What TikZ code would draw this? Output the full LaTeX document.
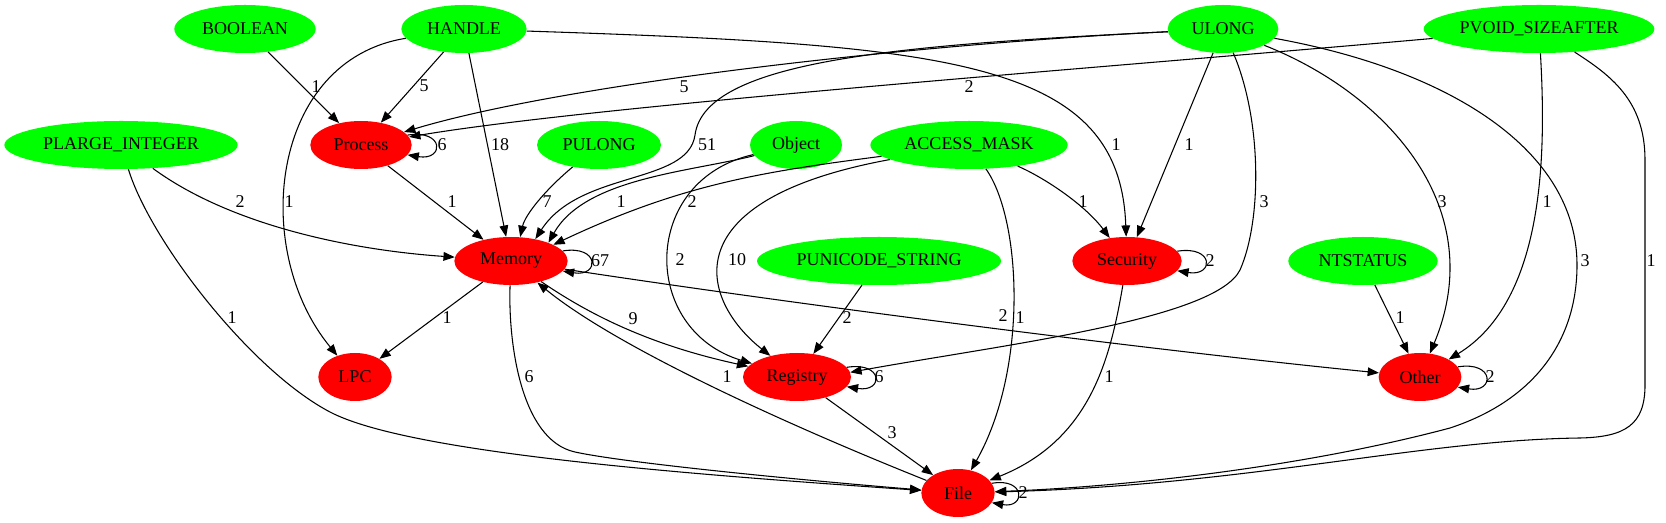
\documentclass[tikz,border=0pt]{standalone}
\usepackage{fontspec}
\setmainfont{Liberation Serif}
\usetikzlibrary{arrows.meta, shapes.geometric}

\definecolor{typegreen}{RGB}{0,255,0}
\definecolor{grpred}{RGB}{255,0,0}
\newcommand{\gvfont}{\fontsize{13.5pt}{16pt}\selectfont}

\begin{document}
\begin{tikzpicture}[x=0.75pt, y=-0.75pt,
  typ/.style={ellipse, fill=typegreen, minimum height=36pt, inner sep=0pt, font=\gvfont},
  grp/.style={ellipse, fill=grpred, minimum height=36pt, inner sep=0pt, font=\gvfont},
  arr/.style={-{Triangle[length=8.5pt, width=6.5pt]}, line width=0.8pt},
  lbl/.style={font=\gvfont, inner sep=0pt}
]
  \useasboundingbox (0,0) rectangle (1666,523);

  \node[typ, minimum width=106pt] (bool)     at (245,29)   {BOOLEAN};
  \node[typ, minimum width=94pt]  (handle)   at (464,29)   {HANDLE};
  \node[typ, minimum width=83pt]  (ulong)    at (1223,29)  {ULONG};
  \node[typ, minimum width=173pt] (pvoid)    at (1539,29)  {PVOID\_SIZEAFTER};
  \node[typ, minimum width=175pt] (plarge)   at (121,145)  {PLARGE\_INTEGER};
  \node[typ, minimum width=93pt]  (pulong)   at (599,145)  {PULONG};
  \node[typ, minimum width=69pt]  (object)   at (796,145)  {Object};
  \node[typ, minimum width=148pt] (access)   at (969,145)  {ACCESS\_MASK};
  \node[typ, minimum width=183pt] (punicode) at (879,261)  {PUNICODE\_STRING};
  \node[typ, minimum width=112pt] (ntstatus) at (1363,261) {NTSTATUS};

  \node[grp, minimum width=76pt] (proc)  at (361,145)  {Process};
  \node[grp, minimum width=85pt] (mem)   at (511,261)  {Memory};
  \node[grp, minimum width=82pt] (sec)   at (1127,261) {Security};
  \node[grp, minimum width=55pt] (lpc)   at (355,377)  {LPC};
  \node[grp, minimum width=81pt] (reg)   at (797,377)  {Registry};
  \node[grp, minimum width=62pt] (other) at (1420,377) {Other};
  \node[grp, minimum width=55pt] (file)  at (958,493)  {File};

  \draw[arr] (bool) -- (proc) node[lbl] at (316,87) {1};
  \draw[arr] (handle) -- (proc) node[lbl] at (424,86) {5};
  \draw[arr] (handle) -- (mem) node[lbl] at (500,145) {18};
  \draw[arr] (handle) .. controls (270,60) and (250,250) .. (lpc) node[lbl] at (289,202) {1};
  \draw[arr] (handle) .. controls (950,45) and (1120,60) .. (sec) node[lbl] at (1116,145) {1};

  \draw[arr] (ulong) .. controls (900,45) and (560,85) .. (proc) node[lbl] at (684,87) {5};
  \draw[arr] (ulong) .. controls (900,45) and (705,60) .. (695,135)
                     .. controls (688,185) and (580,170) .. (mem.42) node[lbl] at (707,145) {51};
  \draw[arr] (ulong) -- (sec) node[lbl] at (1189,145) {1};
  \draw[arr] (ulong) .. controls (1262,120) and (1262,220) .. (1240,270)
                     .. controls (1215,320) and (1000,345) .. (reg.5) node[lbl] at (1264,202) {3};
  \draw[arr] (ulong) .. controls (1390,95) and (1490,210) .. (other) node[lbl] at (1442,202) {3};
  \draw[arr] (ulong) .. controls (1450,70) and (1577,150) .. (1577,265)
                     .. controls (1577,340) and (1535,400) .. (1450,428)
                     .. controls (1300,468) and (1120,487) .. (file) node[lbl] at (1585,261) {3};

  \draw[arr] (pvoid) .. controls (1100,68) and (600,105) .. (proc) node[lbl] at (969,87) {2};
  \draw[arr] (pvoid) .. controls (1546,150) and (1546,300) .. (other) node[lbl] at (1547,202) {1};
  \draw[arr] (pvoid) .. controls (1610,75) and (1645,100) .. (1645,160) -- (1645,385)
                     .. controls (1645,425) and (1625,437) .. (1580,438)
                     .. controls (1420,440) and (1250,485) .. (file) node[lbl] at (1651,261) {1};

  \draw[arr] (plarge) .. controls (230,225) and (350,250) .. (mem) node[lbl] at (240,202) {2};
  \draw[arr] (plarge) .. controls (150,240) and (250,370) .. (330,412)
                      .. controls (410,454) and (700,475) .. (file) node[lbl] at (232,318) {1};

  \draw[arr] (proc) -- (mem) node[lbl] at (452,202) {1};
  \draw[arr] (proc.12) .. controls ([shift={(37,-6)}]proc.12) and ([shift={(37,6)}]proc.-12) .. (proc.-12)
             node[lbl] at (442,145) {6};
  \draw[arr] (pulong) .. controls (545,190) and (525,215) .. (mem.69) node[lbl] at (547,202) {7};

  \draw[arr] (object) .. controls (690,172) and (585,178) .. (mem.26) node[lbl] at (621,202) {1};
  \draw[arr] (object) .. controls (640,180) and (640,330) .. (reg) node[lbl] at (680,260) {2};
  \draw[arr] (access) .. controls (760,172) and (680,185) .. (mem.21) node[lbl] at (692,202) {2};
  \draw[arr] (access) .. controls (670,200) and (700,300) .. (reg) node[lbl] at (737,260) {10};
  \draw[arr] (access) .. controls (1045,178) and (1085,205) .. (sec) node[lbl] at (1083,202) {1};
  \draw[arr] (access) .. controls (1022,220) and (1028,370) .. (file) node[lbl] at (1020,318) {1};

  \draw[arr] (mem.11) .. controls ([shift={(37,-6)}]mem.11) and ([shift={(37,6)}]mem.-11) .. (mem.-11)
             node[lbl] at (600,261) {67};
  \draw[arr] (mem) -- (lpc) node[lbl] at (447,318) {1};
  \draw[arr] (mem) .. controls (590,315) and (650,345) .. (reg) node[lbl] at (633,319) {9};
  \draw[arr] (mem) .. controls (800,305) and (1150,350) .. (other) node[lbl] at (1003,316) {2};
  \draw[arr] (mem) .. controls (508,340) and (520,440) .. (575,452)
                   .. controls (625,463) and (800,480) .. (file) node[lbl] at (529,377) {6};
  \draw[arr] (file) .. controls (800,430) and (620,350) .. (mem) node[lbl] at (727,377) {1};

  \draw[arr] (punicode) -- (reg) node[lbl] at (847,318) {2};
  \draw[arr] (reg) -- (file) node[lbl] at (892,433) {3};
  \draw[arr] (reg.11) .. controls ([shift={(37,-6)}]reg.11) and ([shift={(37,6)}]reg.-11) .. (reg.-11)
             node[lbl] at (879,377) {6};

  \draw[arr] (sec) .. controls (1110,360) and (1090,440) .. (file) node[lbl] at (1109,377) {1};
  \draw[arr] (sec.11) .. controls ([shift={(37,-6)}]sec.11) and ([shift={(37,6)}]sec.-11) .. (sec.-11)
             node[lbl] at (1210,261) {2};

  \draw[arr] (ntstatus) -- (other) node[lbl] at (1400,318) {1};
  \draw[arr] (other.15) .. controls ([shift={(37,-6)}]other.15) and ([shift={(37,6)}]other.-15) .. (other.-15)
             node[lbl] at (1490,377) {2};
  \draw[arr] (file.16) .. controls ([shift={(34,-6)}]file.16) and ([shift={(34,6)}]file.-16) .. (file.-16)
             node[lbl] at (1023,493) {2};
\end{tikzpicture}
\end{document}
